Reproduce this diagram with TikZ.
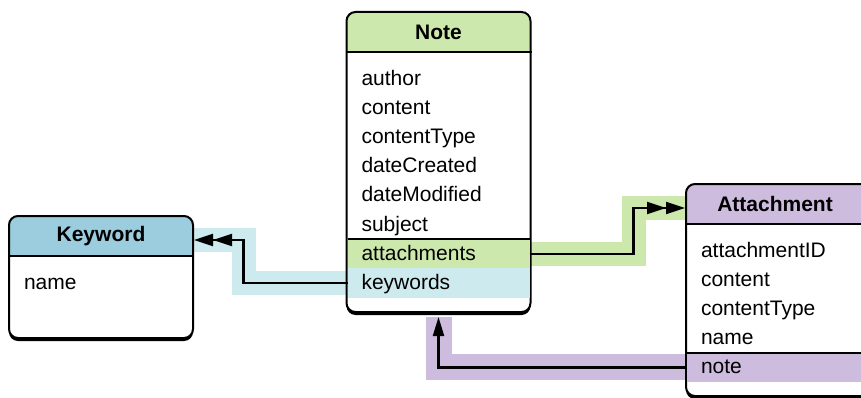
\documentclass[tikz,border=0pt]{standalone}
\usepackage{fontspec}
\setmainfont{Liberation Sans}
\usetikzlibrary{chains,positioning,arrows.meta,shadows,backgrounds}
\definecolor{notegreen}{RGB}{205,232,172}
\definecolor{kwblue}{RGB}{155,205,222}
\definecolor{kwlight}{RGB}{205,234,238}
\definecolor{attpurple}{RGB}{206,188,222}

\begin{document}
\begin{tikzpicture}[x=1pt,y=-1pt,
	entity/.style={draw,line width=2pt,rounded corners=9pt,fill=white,minimum width=184pt,anchor=north,
		drop shadow={shadow xshift=0pt,shadow yshift=-3pt,opacity=1,fill=black},
		path picture={\fill[#1,sharp corners] (path picture bounding box.north west) rectangle ([yshift=-40pt]path picture bounding box.north east);}},
	title/.style={font=\fontsize{21pt}{25pt}\selectfont\bfseries},
	attr/.style={font=\fontsize{21pt}{25pt}\selectfont,text width=154pt,align=left,inner xsep=14pt,inner ysep=0pt,
		outer sep=0pt,minimum height=29.2pt,text height=17pt,text depth=4pt},
	sepline/.style={line width=1.5pt},
	rel/.style={line width=2.2pt,line join=miter},
	band/.style={line width=24pt,line join=miter,draw=#1},
	many/.style={-{Triangle[length=19pt,width=12pt]Triangle[length=19pt,width=12pt]}},
	one/.style={-{Triangle[length=19pt,width=11pt]}},
	]
	\useasboundingbox (0,0) rectangle (861,398);
	
	% the entities
	\node[entity=notegreen,minimum height=300pt] (note) at (438.5,11) {};
	\node[entity=kwblue,minimum height=122pt] (keyword) at (101,215) {};
	\node[entity=attpurple,minimum height=212pt] (attachment) at (778,183) {};
	
	\node[title] (noteh) at ([yshift=-21pt]note.north) {Note};
	\node[title] (keywordh) at ([yshift=-21pt]keyword.north) {Keyword};
	\node[title] (attachmenth) at ([xshift=-3pt,yshift=-21pt]attachment.north) {Attachment};
	
	\foreach \e in {note,keyword,attachment}
	\draw[sepline] ([yshift=-41pt]\e.north west) -- ([yshift=-41pt]\e.north east);
	
	% attributes of Note
	\begin{scope}[shift={(438.5,78.6)},start chain=going below,node distance=0pt]
	\foreach \a [count=\i] in {author,content,contentType,dateCreated,dateModified,subject}
	\node[attr,on chain] (n\i) {\a};
	\node[attr,on chain,fill=notegreen] (n7) {attachments};
	\node[attr,on chain,fill=kwlight] (n8) {keywords};
	\end{scope}
	
	% attributes of Keyword
	\begin{scope}[shift={(101,282.6)},start chain=going below,node distance=0pt]
	\foreach \a [count=\i] in {name}
	\node[attr,on chain] (k\i) {\a};
	\end{scope}
	
	% attributes of Attachment
	\begin{scope}[shift={(778,250.6)},start chain=going below,node distance=0pt]
	\foreach \a [count=\i] in {attachmentID,content,contentType,name}
	\node[attr,on chain] (a\i) {\a};
	\node[attr,on chain,fill=attpurple] (a5) {note};
	\end{scope}
	
	\draw[sepline] (n7.north west) -- (n7.north east);
	\draw[sepline] (a5.north west) -- (a5.north east);
	
	% ends of the relationships
	\coordinate (kwin) at ([yshift=-25pt]keyword.north east);
	\coordinate (attin) at ([yshift=-25pt]attachment.north west);
	\coordinate (noteout) at ([yshift=-4pt]note.south);
	
	% coloured bands
	\begin{pgfonlayer}{background}
	\draw[band=notegreen] (n7.east) -- ++(104,0) |- (attin);
	\draw[band=kwlight] (n8.west) -- ++(-104,0) |- (kwin);
	\draw[band=attpurple,line width=26pt] (a5.west) -| (noteout);
	\end{pgfonlayer}
	
	% relationships
	\draw[rel,many] (n7.east) -- ++(104,0) |- (attin);
	\draw[rel,many] (n8.west) -- ++(-104,0) |- (kwin);
	\draw[rel,one] (a5.west) -| (noteout);
	
\end{tikzpicture}
\end{document}
